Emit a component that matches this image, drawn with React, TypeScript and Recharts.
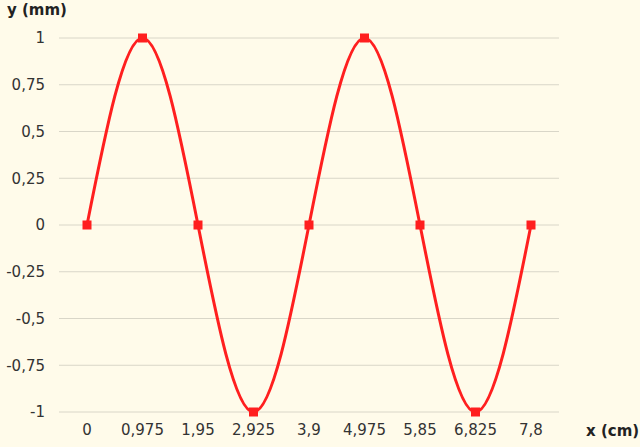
import { CartesianGrid, Line, LineChart, XAxis, YAxis } from "recharts";

const xLabels = ["0", "0,975", "1,95", "2,925", "3,9", "4,975", "5,85", "6,825", "7,8"];
const yValues = [0, 1, 0, -1, 0, 1, 0, -1, 0];
const yTicks = [-1, -0.75, -0.5, -0.25, 0, 0.25, 0.5, 0.75, 1];

const data = xLabels.map((x, i) => ({ x, y: yValues[i] }));

const font = "'DejaVu Sans', Verdana, sans-serif";

function Marker(props: any) {
  const { cx, cy } = props;
  if (cx == null || cy == null) return null;
  return <rect x={cx - 4.5} y={cy - 4.5} width={9} height={9} fill="#ff1f1f" />;
}

const titleStyle = {
  position: "absolute" as const,
  fontSize: 15,
  fontWeight: "bold" as const,
  color: "#222",
  whiteSpace: "nowrap" as const
};

export default function App() {
  return (
    <div
      style={{
        position: "absolute",
        left: 0,
        top: 0,
        width: 640,
        height: 447,
        background: "#fffbea",
        fontFamily: font
      }}
    >
      <div style={{ ...titleStyle, left: 7, top: 1 }}>y (mm)</div>
      <div style={{ ...titleStyle, left: 586, top: 422 }}>x (cm)</div>
      <LineChart width={640} height={447} data={data} margin={{ top: 38, right: 81, bottom: 5, left: 0 }}>
        <CartesianGrid vertical={false} stroke="#d9d6c8" strokeWidth={1} />
        <XAxis
          dataKey="x"
          height={30}
          axisLine={false}
          tickLine={false}
          tickSize={0}
          tickMargin={12}
          interval={0}
          padding={{ left: 28, right: 28 }}
          tick={{ fill: "#333", fontSize: 15, fontFamily: font }}
        />
        <YAxis
          width={59}
          domain={[-1, 1]}
          ticks={yTicks}
          axisLine={false}
          tickLine={false}
          tickSize={0}
          tickMargin={14}
          tickFormatter={(v: number) => String(v).replace(".", ",")}
          tick={{ fill: "#333", fontSize: 15, fontFamily: font }}
        />
        <Line
          type="natural"
          dataKey="y"
          stroke="#ff1f1f"
          strokeWidth={3}
          dot={<Marker />}
          activeDot={false}
          isAnimationActive={false}
        />
      </LineChart>
    </div>
  );
}
